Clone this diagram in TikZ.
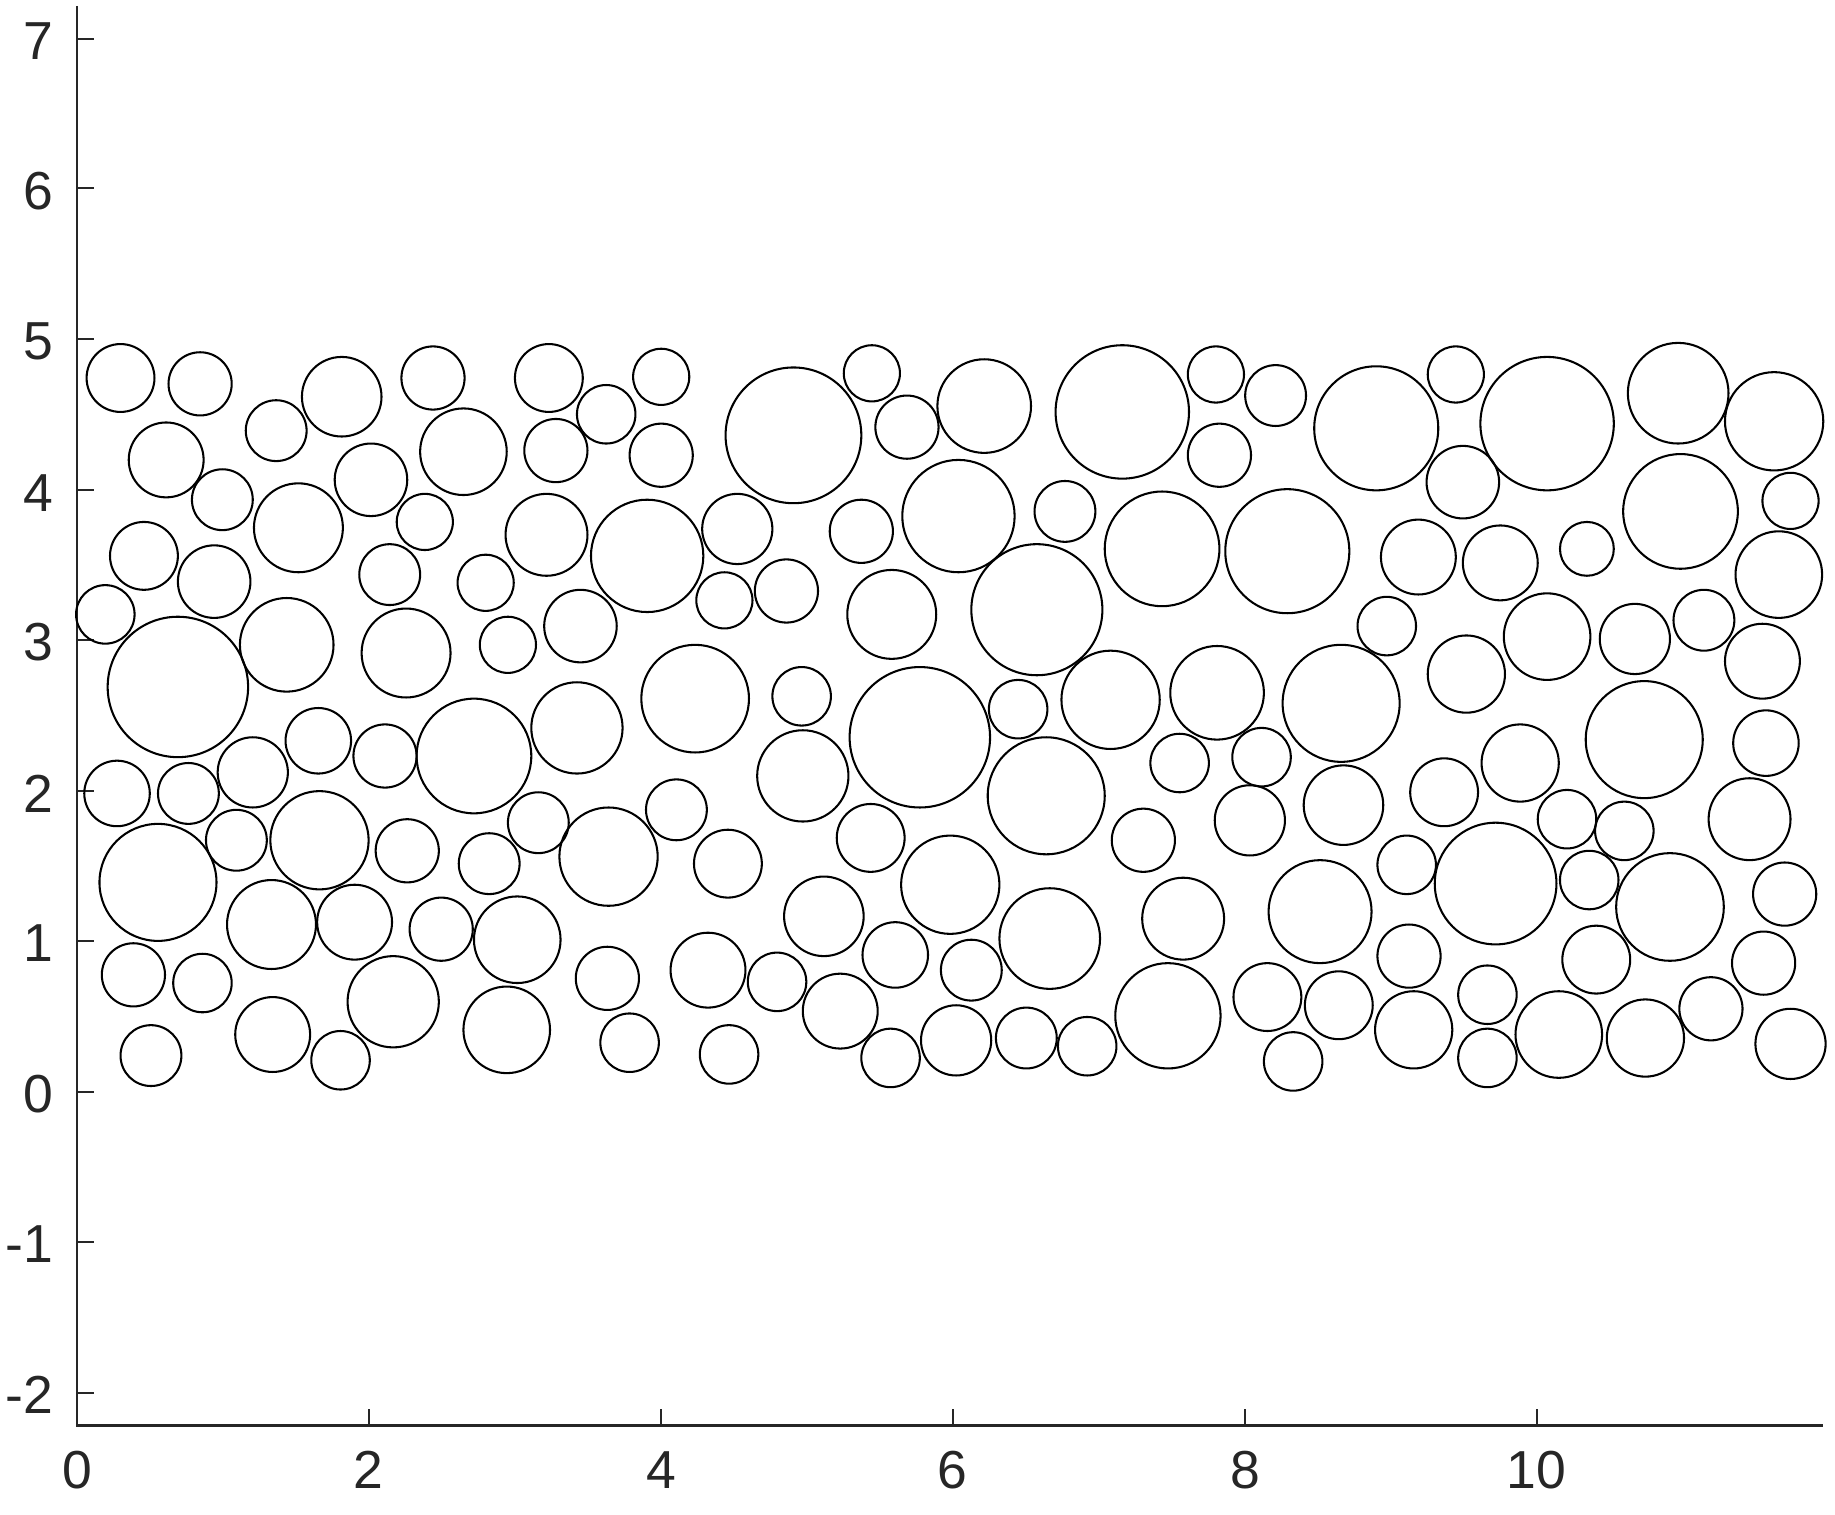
\documentclass[tikz,border=0pt]{standalone}
\usepackage{fontspec}
\setmainfont{Liberation Sans}
\definecolor{axisgray}{gray}{0.15}
\begin{document}
\begin{tikzpicture}[x=0.01cm,y=-0.01cm,
  disc/.style={draw=black,line width=0.5pt},
  axisline/.style={draw=axisgray,line width=0.6pt},
  tickmark/.style={draw=axisgray,line width=0.45pt},
  ticklab/.style={inner sep=0pt,text=axisgray,font=\fontsize{13}{15}\selectfont}]
\useasboundingbox (0,0) rectangle (1568,1294);
% axes
\draw[axisline] (66,5) -- (66,1218) -- (1558,1218);
\foreach \v/\py [count=\i] in {7/33,6/161,5/290,4/419,3/547,2/676,1/804,0/933,-1/1061,-2/1190}{
  \draw[tickmark] (66,\py) -- (80,\py);
  \node[ticklab,anchor=east] (yl\i) at (46,\py+2) {\v};
}
\foreach \v/\px [count=\i] in {0/66,2/315,4/565,6/814,8/1064,10/1313}{
  \draw[tickmark] (\px,1218) -- (\px,1204);
  \node[ticklab] (xl\i) at (\px,1256) {\v};
}
% circles
\foreach \cx/\cy/\r in {
103/323/29, 171/328/27, 142/393/32, 190/427/26, 123/475/29, 183/497/31, 90/525/25,
152/587/60, 100/678/28, 161/678/26, 202/718/26, 135/754/50, 114/833/27, 173/840/25, 129/902/26,
236/368/26, 292/339/34, 255/451/38, 317/410/31, 333/491/26, 245/551/40, 272/633/28, 216/660/30,
329/646/27, 273/718/42, 232/790/38, 303/788/32, 336/856/39, 233/884/32, 291/906/25,
370/323/27, 396/386/37, 363/446/24, 415/498/24, 347/558/38, 434/551/24, 405/646/49, 348/727/27,
377/794/27, 418/738/26, 442/803/37, 433/880/37, 460/703/26, 469/323/29, 475/385/27, 467/457/35,
518/354/25, 565/322/24, 565/389/27, 553/475/48, 496/535/31, 493/622/39, 594/597/46, 578/692/26,
520/732/42, 622/738/29, 519/836/27, 605/829/32, 538/891/25, 623/901/25, 619/513/24, 630/452/30,
678/372/58, 745/319/24, 775/365/27, 736/454/27, 672/505/27, 762/525/38, 685/595/25, 686/663/39,
744/716/29, 704/783/34, 765/816/28, 664/839/25, 718/864/32, 761/904/25, 786/630/60,
841/347/40, 819/441/48, 910/437/26, 886/521/56, 870/606/25, 894/680/50, 812/756/42, 897/802/43,
830/829/26, 817/889/30, 877/887/26, 929/894/25, 949/598/42, 959/352/57,
1039/320/24, 1090/338/26, 1042/389/27, 993/469/49, 1100/471/53, 1040/592/40, 1008/652/25,
1078/647/25, 1068/701/30, 977/718/27, 1011/785/35, 998/868/45, 1083/852/29, 1105/907/25,
1176/366/53, 1244/320/24, 1250/412/31, 1212/476/32, 1185/535/25, 1146/601/50, 1253/576/33,
1148/688/34, 1234/677/29, 1202/739/25, 1128/779/44, 1204/817/27, 1144/859/29, 1208/880/33,
1322/362/57, 1282/481/32, 1356/469/23, 1322/544/37, 1397/546/30, 1405/632/50, 1299/652/33,
1339/700/25, 1388/710/25, 1278/755/52, 1358/752/25, 1364/820/29, 1271/850/25, 1271/904/25,
1332/884/37, 1406/887/33,
1434/336/43, 1516/360/42, 1530/428/24, 1436/437/49, 1520/491/37, 1456/530/26, 1506/565/32,
1509/635/28, 1495/700/35, 1427/775/46, 1525/764/27, 1507/823/27, 1462/862/27, 1530/892/30}{
  \draw[disc] (\cx,\cy) circle (\r);
}
\end{tikzpicture}
\end{document}
